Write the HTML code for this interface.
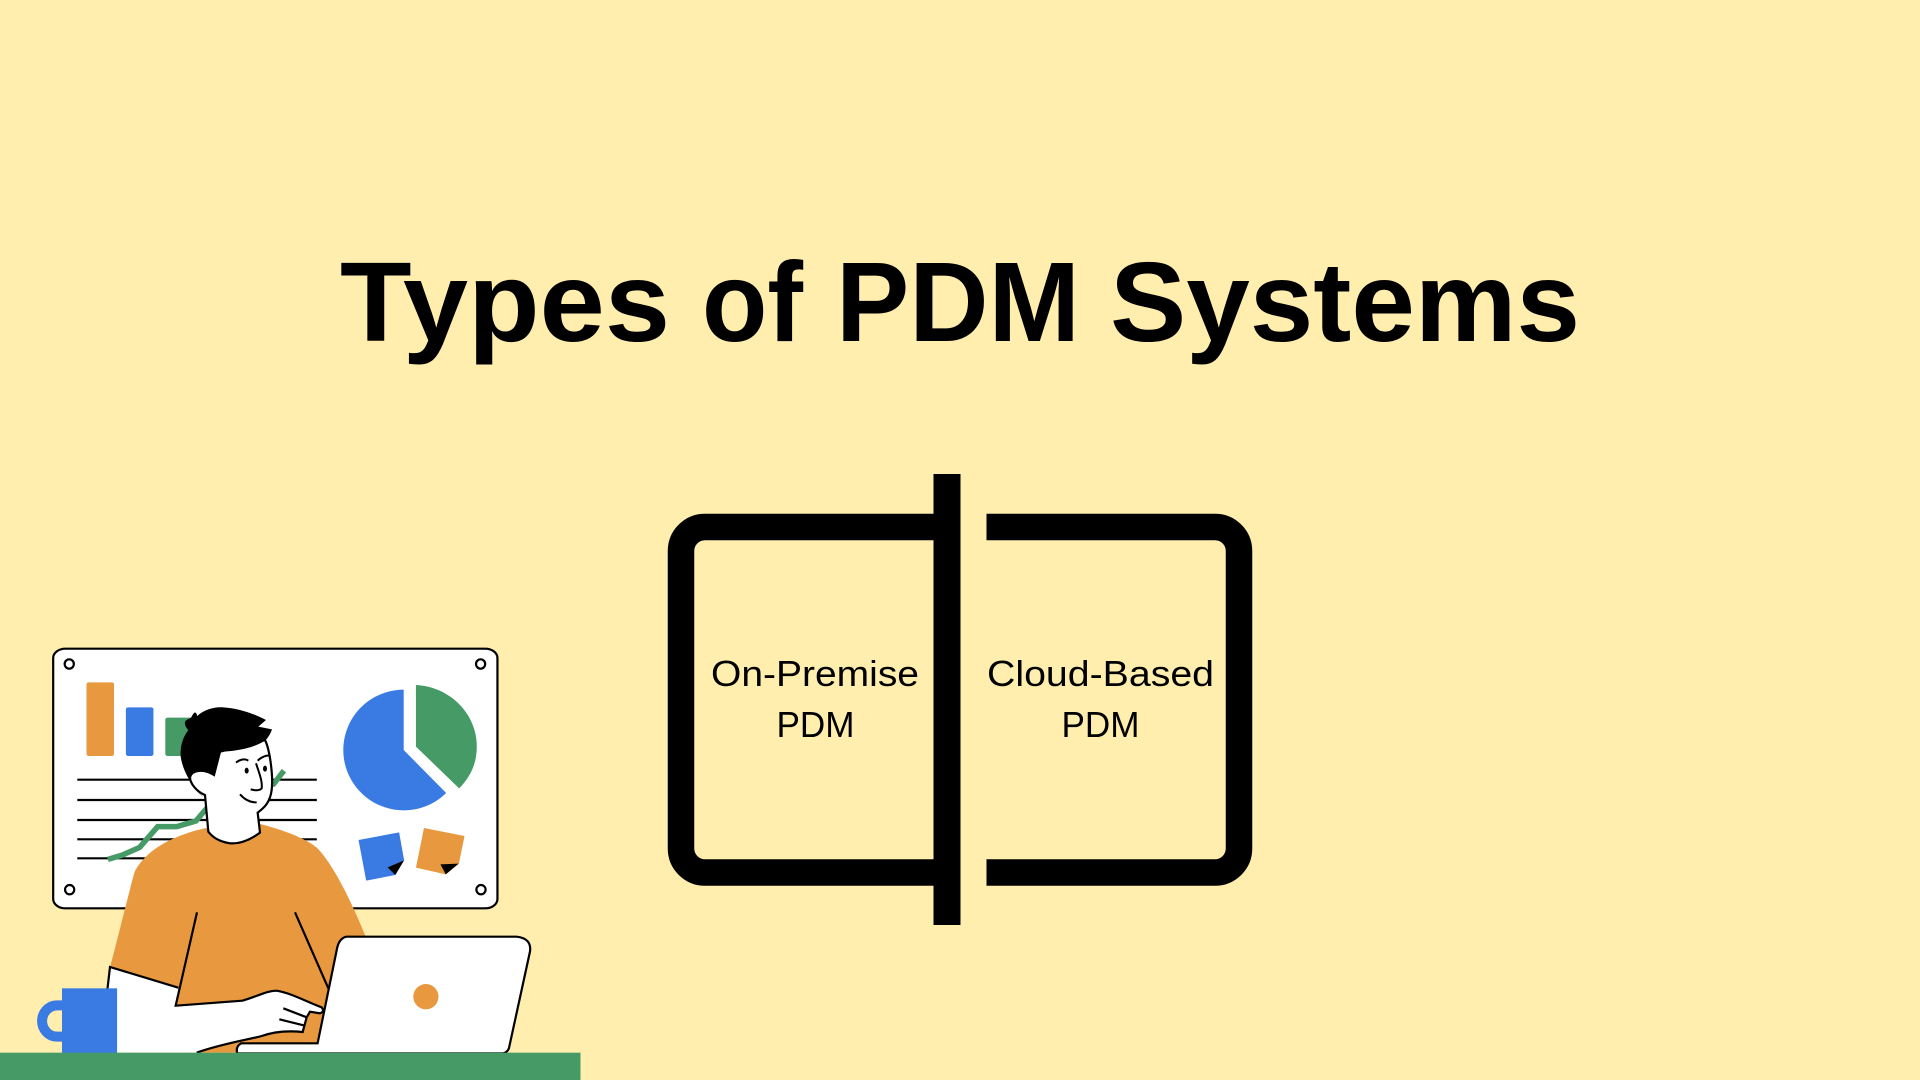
<!DOCTYPE html>
<html lang="en">
<head>
<meta charset="utf-8">
<title>Types of PDM Systems</title>
<style>
html,body{margin:0;padding:0;width:1920px;height:1080px;overflow:hidden;background:#FFEEAD}
svg{display:block;position:absolute;left:0;top:0}
text{font-family:"Liberation Sans",sans-serif;fill:#000}
.ns{vector-effect:non-scaling-stroke}
</style>
</head>
<body>
<svg width="1920" height="1080" viewBox="0 0 1920 1080" xmlns="http://www.w3.org/2000/svg">
<rect width="1920" height="1080" fill="#FFEEAD"/>

<g font-size="113" font-weight="700">
<text x="340" y="341" textLength="330" lengthAdjust="spacingAndGlyphs">Types</text>
<text x="702" y="341" textLength="101" lengthAdjust="spacingAndGlyphs">of</text>
<text x="836" y="341" textLength="244" lengthAdjust="spacingAndGlyphs">PDM</text>
<text x="1110" y="341" textLength="470" lengthAdjust="spacingAndGlyphs">Systems</text>
</g>

<!-- Brackets -->
<path d="M934,527 H705 A24,24 0 0 0 681,551 V848.5 A24,24 0 0 0 705,872.5 H934" fill="none" stroke="#000" stroke-width="26.5"/>
<path d="M986.5,527 H1215 A24,24 0 0 1 1239,551 V848.5 A24,24 0 0 1 1215,872.5 H986.5" fill="none" stroke="#000" stroke-width="26.5"/>
<rect x="933.5" y="474" width="27" height="451" fill="#000"/>

<text x="711" y="686" font-size="36" textLength="208" lengthAdjust="spacingAndGlyphs">On-Premise</text>
<text x="776.5" y="737" font-size="36" textLength="78" lengthAdjust="spacingAndGlyphs">PDM</text>
<text x="987" y="686" font-size="36" textLength="227" lengthAdjust="spacingAndGlyphs">Cloud-Based</text>
<text x="1061.5" y="737" font-size="36" textLength="78" lengthAdjust="spacingAndGlyphs">PDM</text>

<!-- Illustration, zoom-space coordinates -->
<g transform="translate(0,630) scale(0.38265,0.33333)">
  <rect class="ns" x="139" y="56" width="1161" height="779" rx="32" ry="28" fill="#fff" stroke="#000" stroke-width="2.2"/>
  <g fill="#fff" stroke="#000" stroke-width="2.2">
    <ellipse class="ns" cx="181" cy="102" rx="12" ry="14"/>
    <ellipse class="ns" cx="1256" cy="102" rx="12" ry="14"/>
    <ellipse class="ns" cx="182" cy="779" rx="12" ry="14"/>
    <ellipse class="ns" cx="1257" cy="779" rx="12" ry="14"/>
  </g>
  <rect x="226" y="157" width="72" height="221" rx="6" fill="#E89940"/>
  <rect x="329" y="232" width="72" height="146" rx="6" fill="#3A7BE3"/>
  <rect x="432" y="263" width="90" height="115" rx="6" fill="#459A66"/>
  <g stroke="#000" stroke-width="2.2" fill="none">
    <path class="ns" d="M202,449H828"/>
    <path class="ns" d="M202,510H828"/>
    <path class="ns" d="M202,570H828"/>
    <path class="ns" d="M202,628H828"/>
    <path class="ns" d="M202,685H828"/>
  </g>
  <polyline class="ns" points="282,688 320,675 365,652 412,590 462,590 512,573 540,535 600,480 715,462 742,422" fill="none" stroke="#459A66" stroke-width="5.5"/>
  <path d="M1055,179 A158,181 0 1 0 1166,489 L1055,360 Z" fill="#3A7BE3"/>
  <path d="M1087,165 C1175,170 1246,250 1246,350 C1246,400 1230,440 1200,475 L1087,350 Z" fill="#459A66"/>
  <polygon points="937,630 1043,607 1056,690 1033,735 957,752" fill="#3A7BE3"/>
  <polygon points="1056,691 1013,712 1033,735" fill="#000"/>
  <polygon points="1108,594 1214,618 1199,702 1165,733 1087,713" fill="#E89940"/>
  <polygon points="1151,703 1198,701 1165,733" fill="#000"/>
  <path d="M545,592 C470,610 385,650 352,725 C345,750 300,960 288,1010 L280,1268 L900,1268 L955,918 C920,820 875,710 830,655 C800,625 740,600 680,582 Z" fill="#E89940"/>
</g>

<!-- Head -->
<g transform="translate(160,690) scale(0.33333)">
  <path class="ns" d="M315,150 C330,180 340,260 335,300 C330,340 310,355 293,368 L300,428 C270,450 240,462 210,460 C180,455 160,445 145,425 L135,315 C110,305 90,280 90,262 C95,240 130,235 162,255 L180,185 Z" fill="#fff" stroke="#000" stroke-width="2.2"/>
  <path d="M135,325 C100,295 70,250 62,200 C60,165 70,140 85,120 C75,110 70,95 80,90 C90,85 92,85 95,80 C100,70 105,62 110,72 L112,78 C130,60 160,50 190,52 C235,55 280,70 318,90 L295,110 L336,118 C330,135 320,150 310,155 C275,175 230,183 182,185 L162,256 C135,240 100,232 90,262 C92,285 110,305 135,325 Z" fill="#000"/>
  <ellipse cx="260" cy="242" rx="6" ry="9" fill="#000"/>
  <ellipse cx="315" cy="236" rx="6" ry="9" fill="#000"/>
  <g fill="none" stroke="#000" stroke-width="2">
    <path class="ns" d="M228,218 C240,208 255,205 265,212"/>
    <path class="ns" d="M293,212 C305,200 320,195 330,197"/>
    <path class="ns" d="M288,220 C298,250 308,275 305,295 C300,302 285,302 272,298"/>
    <path class="ns" d="M240,313 C255,330 270,338 290,337"/>
  </g>
</g>

<!-- Arm and hand -->
<g transform="translate(150,900) scale(0.33333)">
  <path d="M-120,201 L85,263 L77,317 L277,302 C320,290 350,272 380,272 C420,278 470,305 515,322 Q525,335 510,340 L480,335 L470,352 L458,396 C420,392 380,392 335,408 C300,418 220,430 140,458 L-135,458 L-135,330 Z" fill="#fff"/>
  <g fill="none" stroke="#000" stroke-width="2.2">
    <path class="ns" d="M-135,330 L-120,201 L85,263"/>
    <path class="ns" d="M141,37 L77,317 L277,302 C320,290 350,272 380,272 C420,278 470,305 515,322 Q525,335 510,340 L480,335 L470,352 L458,396 C420,392 380,392 335,408 C300,418 220,430 140,458"/>
    <path class="ns" d="M400,325 L470,352"/>
    <path class="ns" d="M388,358 L465,377"/>
    <path class="ns" d="M435,37 L535,265"/>
  </g>
</g>

<g transform="translate(0,630) scale(0.38265,0.33333)">
  <path class="ns" d="M905,920 L1350,920 Q1390,925 1385,965 L1330,1255 Q1325,1268 1315,1270 L620,1270 Q615,1250 630,1240 L830,1240 L880,960 Q885,925 905,920 Z" fill="#fff" stroke="#000" stroke-width="2.2"/>
  <ellipse cx="1113" cy="1100" rx="33" ry="38" fill="#E89940"/>
  <path d="M162,1126 H150 C125,1126 110,1150 110,1173 C110,1196 125,1220 150,1220 H162" fill="none" stroke="#3A7BE3" stroke-width="10" class="ns"/>
  <rect x="162" y="1075" width="144" height="195" fill="#3A7BE3"/>
  <rect x="0" y="1268" width="1517" height="82" fill="#459A66"/>
</g>
</svg>
</body>
</html>
